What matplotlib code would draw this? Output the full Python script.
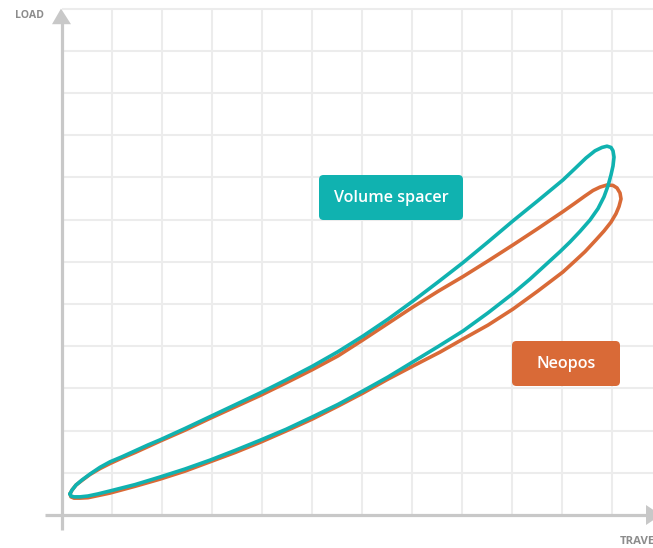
import matplotlib
matplotlib.use("Agg")
import matplotlib.pyplot as plt
from matplotlib.patches import FancyBboxPatch, Polygon

# ---- data (grid units: x = travel, y = load) ----
teal_x = [0.16, 0.20, 0.28, 0.40, 0.56, 0.76, 0.96, 1.20, 1.46, 1.72, 1.96, 2.46, 2.96, 3.46,
          3.96, 4.48, 5.00, 5.52, 6.02, 6.52, 7.02, 7.52, 8.02, 8.52, 9.02, 9.52, 10.02, 10.26,
          10.48, 10.66, 10.80, 10.90, 10.98, 11.02, 11.04,
          11.02, 10.98, 10.92, 10.84, 10.72, 10.56, 10.36, 10.16, 9.96, 9.72, 9.36, 9.02,
          8.52, 8.02, 7.52, 7.02, 6.52, 6.02, 5.52, 5.00, 4.48, 3.96, 3.46, 2.96, 2.46, 1.96,
          1.46, 0.96, 0.72, 0.52, 0.36, 0.24, 0.18, 0.16]
teal_y = [0.50, 0.59, 0.71, 0.83, 0.97, 1.13, 1.26, 1.38, 1.52, 1.66, 1.78, 2.05, 2.33, 2.61,
          2.89, 3.20, 3.52, 3.87, 4.24, 4.64, 5.07, 5.52, 5.98, 6.47, 6.97, 7.45, 7.94, 8.21,
          8.46, 8.63, 8.71, 8.74, 8.71, 8.63, 8.48,
          8.27, 8.06, 7.80, 7.54, 7.26, 6.99, 6.72, 6.47, 6.24, 5.98, 5.59, 5.25,
          4.79, 4.36, 3.99, 3.63, 3.27, 2.94, 2.62, 2.32, 2.03, 1.77, 1.53, 1.30, 1.09, 0.90,
          0.72, 0.57, 0.50, 0.45, 0.43, 0.43, 0.45, 0.50]

orange_x = [0.16, 0.20, 0.28, 0.40, 0.56, 0.76, 0.96, 1.20, 1.46, 1.72, 1.96, 2.46, 2.96, 3.46,
            3.96, 4.48, 5.00, 5.52, 6.02, 6.52, 7.02, 7.52, 8.02, 8.52, 9.02, 9.52, 10.02,
            10.26, 10.46, 10.62, 10.76, 10.90, 11.02, 11.10, 11.16, 11.18,
            11.14, 11.08, 10.98, 10.84, 10.68, 10.46, 10.26, 10.02, 9.52, 9.02, 8.52, 8.02,
            7.56, 7.02, 6.52, 6.02, 5.52, 5.00, 4.48, 3.96, 3.46, 2.96, 2.46, 1.96, 1.46, 0.96,
            0.72, 0.52, 0.36, 0.24, 0.18, 0.16]
orange_y = [0.50, 0.59, 0.71, 0.82, 0.96, 1.10, 1.22, 1.35, 1.48, 1.62, 1.75, 2.01, 2.29, 2.56,
            2.83, 3.13, 3.44, 3.77, 4.15, 4.54, 4.93, 5.30, 5.65, 6.02, 6.40, 6.79, 7.19,
            7.39, 7.56, 7.69, 7.77, 7.82, 7.81, 7.75, 7.63, 7.49,
            7.31, 7.14, 6.94, 6.73, 6.52, 6.24, 6.02, 5.76, 5.31, 4.88, 4.50, 4.17,
            3.86, 3.53, 3.22, 2.89, 2.58, 2.27, 1.99, 1.72, 1.48, 1.26, 1.04, 0.85, 0.68, 0.52,
            0.46, 0.41, 0.40, 0.40, 0.43, 0.50]

series_labels = ["Volume spacer", "Neopos"]
axis_labels = ["LOAD", "TRAVEL"]

TEAL = "#10b2b0"
ORANGE = "#d96a37"
GRID = "#ececec"
AXIS = "#c8c8c8"
LABEL = "#8c8c8c"

W, H = 653, 548
fig = plt.figure(figsize=(W / 100, H / 100), dpi=100)
ax = fig.add_axes([0, 0, 1, 1])
ax.set_xlim(-62 / 50, (W - 62) / 50)
ax.set_ylim(-(H - 515) / 42.2, 515 / 42.2)
ax.axis("off")

xmax = (W - 62) / 50
# grid
for i in range(1, 12):
    ax.plot([i, i], [0, 12], color=GRID, lw=1.5, zorder=1, solid_capstyle="butt")
for j in range(1, 13):
    ax.plot([0, xmax], [j, j], color=GRID, lw=1.5, zorder=1, solid_capstyle="butt")

# axes
ax.plot([0, 0], [-15 / 42.2, 11.7], color=AXIS, lw=2.3, zorder=2, solid_capstyle="butt")
ax.plot([-17 / 50, 11.7], [0, 0], color=AXIS, lw=2.3, zorder=2, solid_capstyle="butt")
ax.add_patch(Polygon([[-0.02, 12.0], [-0.2, 11.63], [0.18, 11.63]], closed=True,
                     color=AXIS, zorder=2, lw=0))
ax.add_patch(Polygon([[11.98, 0], [11.68, 0.237], [11.68, -0.237]], closed=True,
                     color=AXIS, zorder=2, lw=0))

# curves
ax.plot(orange_x, orange_y, color=ORANGE, lw=2.6, zorder=3,
        solid_joinstyle="round", solid_capstyle="round")
ax.plot(teal_x, teal_y, color=TEAL, lw=2.6, zorder=4,
        solid_joinstyle="round", solid_capstyle="round")

font = "Open Sans"
# label boxes (pixel -> inches)
def box(x0, y0, x1, y1, color, text):
    tr = fig.dpi_scale_trans
    p = FancyBboxPatch((x0 / 100, (H - y1) / 100), (x1 - x0) / 100, (y1 - y0) / 100,
                       boxstyle="round,pad=0,rounding_size=0.045",
                       transform=tr, facecolor=color, edgecolor="none", zorder=5)
    fig.add_artist(p)
    fig.text((x0 + x1) / 2 / W, 1 - (y0 + y1) / 2 / H, text, color="white",
             fontsize=11.6, fontweight="semibold", family=font,
             ha="center", va="center", zorder=6)

box(319, 175, 463, 220, TEAL, series_labels[0])
box(512, 341, 620, 386, ORANGE, series_labels[1])

fig.text(15 / W, 1 - 16 / H, axis_labels[0], color=LABEL, fontsize=7.6,
         fontweight="bold", family=font, ha="left", va="center")
fig.text(620 / W, 1 - 542 / H, axis_labels[1], color=LABEL, fontsize=8.2,
         fontweight="bold", family=font, ha="left", va="center")

fig.savefig("out.png", dpi=100, facecolor="white")
